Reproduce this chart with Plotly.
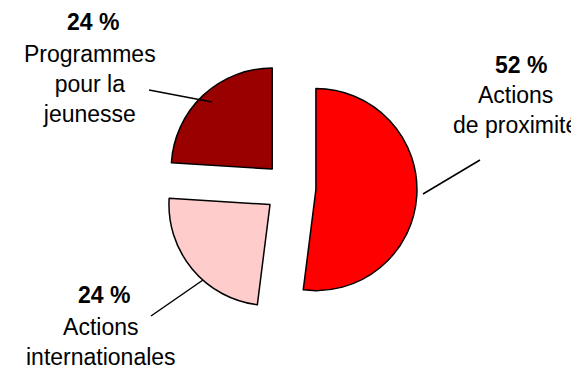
import plotly.graph_objects as go

# ── Data ──
labels  = ["Actions de proximité", "Actions internationales", "Programmes pour la jeunesse"]
values  = [52, 24, 24]
colors  = ["#FF0000", "#FFCCCC", "#990000"]
names   = ["Actions<br>de proximité", "Actions<br>internationales", "Programmes<br>pour la<br>jeunesse"]

W, H = 579, 370


def px(x, y):
    # pixel position -> paper coords
    return x / W, 1 - y / H


fig = go.Figure(go.Pie(
    labels=labels,
    values=values,
    sort=False,
    direction="clockwise",
    rotation=0,
    pull=[0.257, 0.257, 0.257],
    marker=dict(colors=colors, line=dict(color="black", width=1.5)),
    textinfo="none",
    hoverinfo="label+percent",
    domain=dict(x=[155 / W, 409 / W], y=[63 / H, 317 / H]),
))

# label placement (pixels): percent centre, name centre, leader line start/end
label_pos = [
    dict(pct=(513, 57), name=(507, 102), line=((472, 152), (415, 186))),
    dict(pct=(96, 287), name=(93, 334), line=((143, 308), (195, 272))),
    dict(pct=(85, 14), name=(82, 76), line=((141, 82), (204, 94))),
]

font = dict(family="Liberation Sans, Arial, sans-serif", size=23, color="black")
for v, nm, pos in zip(values, names, label_pos):
    x, y = px(*pos["pct"])
    fig.add_annotation(x=x, y=y, xref="paper", yref="paper", text=f"<b>{v} %</b>",
                       showarrow=False, xanchor="center", yanchor="middle", font=font)
    x, y = px(*pos["name"])
    fig.add_annotation(x=x, y=y, xref="paper", yref="paper", text=nm,
                       showarrow=False, xanchor="center", yanchor="middle", font=font)
    (x0, y0), (x1, y1) = px(*pos["line"][0]), px(*pos["line"][1])
    fig.add_shape(type="line", xref="paper", yref="paper", x0=x0, y0=y0, x1=x1, y1=y1,
                  line=dict(color="black", width=1.5))

fig.update_layout(
    width=W, height=H,
    margin=dict(l=0, r=0, t=0, b=0),
    paper_bgcolor="white",
    plot_bgcolor="white",
    showlegend=False,
)
fig.write_html("out.html")
